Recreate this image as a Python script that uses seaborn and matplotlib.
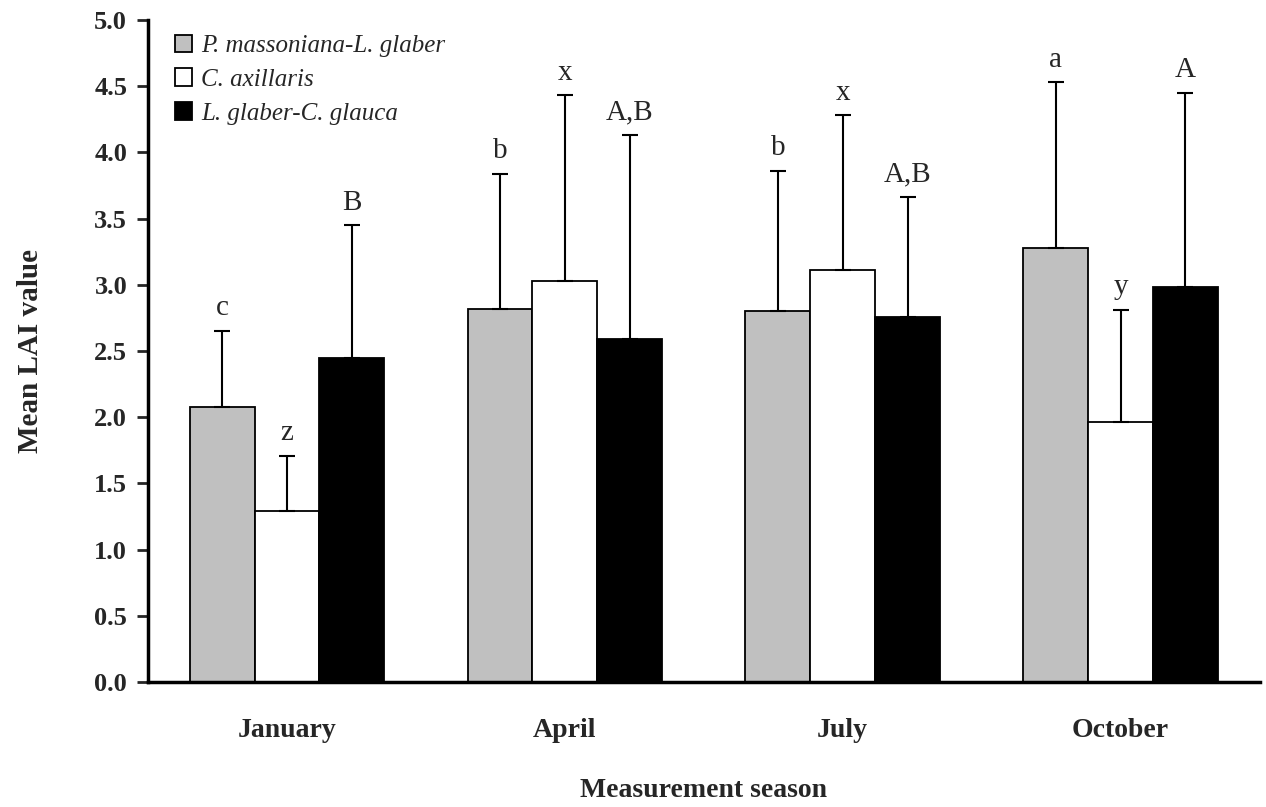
import matplotlib
matplotlib.use("Agg")
import matplotlib.pyplot as plt
import seaborn as sns
import pandas as pd
import numpy as np

seasons = ["January", "April", "July", "October"]
stands = ["P. massoniana-L. glaber", "C. axillaris", "L. glaber-C. glauca"]
mean_pm = [2.08, 2.82, 2.80, 3.28]
mean_ca = [1.29, 3.03, 3.11, 1.96]
mean_lg = [2.45, 2.59, 2.76, 2.98]
err_pm = [0.57, 1.02, 1.06, 1.25]
err_ca = [0.42, 1.40, 1.17, 0.85]
err_lg = [1.00, 1.54, 0.90, 1.47]
letters_pm = ["c", "b", "b", "a"]
letters_ca = ["z", "x", "x", "y"]
letters_lg = ["B", "A,B", "A,B", "A"]
colors = ["#C0C0C0", "#FFFFFF", "#000000"]

means = [mean_pm, mean_ca, mean_lg]
errs = [err_pm, err_ca, err_lg]
letters = [letters_pm, letters_ca, letters_lg]

rows = []
for s, m in zip(stands, means):
    for season, v in zip(seasons, m):
        rows.append({"season": season, "stand": s, "lai": v})
df = pd.DataFrame(rows)

sns.set_style("white")
plt.rcParams["font.family"] = ["Liberation Serif", "DejaVu Serif"]

fig = plt.figure(figsize=(12.66, 8.07), dpi=100)
ax = fig.add_axes([0.1169, 0.1549, 0.8780, 0.8203])

sns.barplot(data=df, x="season", y="lai", hue="stand", order=seasons,
            hue_order=stands, palette=colors, width=0.7, errorbar=None,
            edgecolor="black", linewidth=1.3, saturation=1, ax=ax)

for cont, e, lab in zip(ax.containers, errs, letters):
    xs = [p.get_x() + p.get_width() / 2 for p in cont.patches]
    hs = [p.get_height() for p in cont.patches]
    ax.errorbar(xs, hs, yerr=[np.zeros(len(e)), e], fmt="none",
                ecolor="black", elinewidth=1.5, capsize=6, capthick=1.5, zorder=3)
    for x, h, ee, t in zip(xs, hs, e, lab):
        ax.annotate(t, (x, h + ee), xytext=(0, 7), textcoords="offset points",
                    ha="center", va="bottom", fontsize=21)

ax.set_ylim(0, 5.0)
ax.set_xlim(-0.5, 3.5)
ax.set_yticks(np.arange(0, 5.01, 0.5))
ax.set_yticklabels([f"{v:.1f}" for v in np.arange(0, 5.01, 0.5)],
                   fontsize=19, fontweight="bold")
ax.set_xticks(range(4))
ax.set_xticklabels(seasons, fontsize=20, fontweight="bold")
ax.tick_params(axis="x", length=0, pad=26)
ax.set_xticks([0.5, 1.5, 2.5], minor=True)
ax.tick_params(axis="x", which="minor", direction="in", length=8, width=2)
ax.tick_params(axis="y", direction="out", length=8, width=2, left=True, pad=7)

ax.set_ylabel("Mean LAI value", fontsize=21, fontweight="bold", labelpad=36)
ax.set_xlabel("Measurement season", fontsize=20, fontweight="bold", labelpad=25)

for sp in ["top", "right"]:
    ax.spines[sp].set_visible(False)
for sp in ["left", "bottom"]:
    ax.spines[sp].set_linewidth(2.5)
    ax.spines[sp].set_color("black")

leg = ax.legend(loc="upper left", bbox_to_anchor=(0.004, 1.012), frameon=False,
                prop={"family": ["Liberation Serif"], "style": "italic", "size": 18},
                handlelength=0.7, handleheight=0.7, handletextpad=0.35,
                labelspacing=0.45, title=None)

fig.savefig("out.png", dpi=100)
